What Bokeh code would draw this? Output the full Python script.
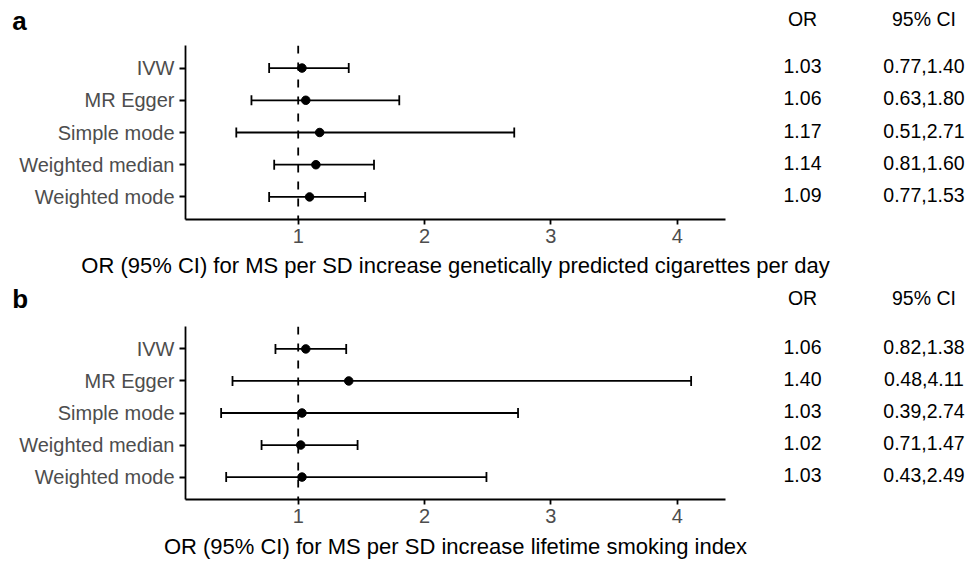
import numpy as np
from bokeh.plotting import figure
from bokeh.models import FactorRange, Range1d, Span, FixedTicker, ColumnDataSource
from bokeh.layouts import column, row
from bokeh.embed import file_html
from bokeh.resources import INLINE
from bokeh.core.properties import value

# ---------------- data ----------------
methods = ["IVW", "MR Egger", "Simple mode", "Weighted median", "Weighted mode"]
table_headers = ["OR", "95% CI"]
x_tick_values = [1, 2, 3, 4]
null_value = 1

a_or = [1.03, 1.06, 1.17, 1.14, 1.09]
a_lo = [0.77, 0.63, 0.51, 0.81, 0.77]
a_hi = [1.40, 1.80, 2.71, 1.60, 1.53]
a_title = "OR (95% CI) for MS per SD increase genetically predicted cigarettes per day"

b_or = [1.06, 1.40, 1.03, 1.02, 1.03]
b_lo = [0.82, 0.48, 0.39, 0.71, 0.43]
b_hi = [1.38, 4.11, 2.74, 1.47, 2.49]
b_title = "OR (95% CI) for MS per SD increase lifetime smoking index"

panel_letters = ["a", "b"]

# ---------------- style / layout ----------------
FONT = "Liberation Sans"
TOTAL_W = 966
MAIN_W = 745
TABLE_W = TOTAL_W - MAIN_W
LEFT_B = 185
RIGHT_B = 20
X_RANGE = (0.108, 4.382)
OR_COL_X = 57
CI_COL_X = 178.5
LETTER_X = -733.3
TITLE_X = (LEFT_B + (MAIN_W - RIGHT_B)) / 2 - MAIN_W
LW = 1.8
GREY = "#4D4D4D"


def fmt(v):
    return f"{v:.2f}"


def strip(h):
    f = figure(width=TOTAL_W, height=h, title=None,
               x_range=Range1d(-MAIN_W, TABLE_W), y_range=Range1d(0, h),
               x_axis_location=None, y_axis_location=None,
               toolbar_location=None, output_backend="svg",
               min_border=0, outline_line_color=None)
    f.xgrid.visible = False
    f.ygrid.visible = False
    return f


def make_panel(letter, title, orv, lo, hi, head_h, letter_y, header_y,
               main_h, frame_h, title_h, title_y):
    head = strip(head_h)
    head.text(x=[LETTER_X], y=[letter_y], text=[letter], text_font=value(FONT),
              text_font_size="26px", text_font_style="bold",
              text_align="left", text_baseline="middle", text_color="black")
    head.text(x=[OR_COL_X, CI_COL_X], y=[header_y, header_y], text=table_headers,
              text_font=value(FONT), text_font_size="19.5px",
              text_align="center", text_baseline="middle", text_color="black")

    bottom_b = main_h - frame_h
    yr = FactorRange(factors=methods[::-1], range_padding=0.2,
                     range_padding_units="absolute")
    p = figure(width=MAIN_W, height=main_h, title=None,
               x_range=Range1d(*X_RANGE), y_range=yr,
               toolbar_location=None, output_backend="svg",
               min_border_left=LEFT_B, min_border_right=RIGHT_B, min_border_top=0,
               min_border_bottom=bottom_b, outline_line_color=None)
    p.xgrid.visible = False
    p.ygrid.visible = False
    p.xaxis.ticker = FixedTicker(ticks=x_tick_values)
    for ax in (p.xaxis[0], p.yaxis[0]):
        ax.axis_line_color = "black"
        ax.axis_line_width = LW
        ax.major_tick_line_color = "black"
        ax.major_tick_line_width = LW
        ax.major_tick_in = 0
        ax.minor_tick_line_color = None
        ax.major_label_text_font = FONT
        ax.major_label_text_font_size = "20px"
        ax.major_label_text_color = GREY
    p.xaxis.major_tick_out = 5
    p.yaxis.major_tick_out = 6
    p.xaxis.major_label_standoff = 4
    p.yaxis.major_label_standoff = 5

    vline = Span(location=null_value, dimension="height", line_color="black",
                 line_dash="8 9", line_width=LW, level="underlay")
    p.add_layout(vline)

    src = ColumnDataSource(dict(method=methods, est=orv, lo=lo, hi=hi))
    p.segment(x0="lo", y0="method", x1="hi", y1="method", source=src,
              line_color="black", line_width=LW)
    p.scatter(x="lo", y="method", marker="dash", angle=np.pi / 2, size=10,
              line_color="black", line_width=LW, source=src)
    p.scatter(x="hi", y="method", marker="dash", angle=np.pi / 2, size=10,
              line_color="black", line_width=LW, source=src)
    p.scatter(x="est", y="method", size=8.5, fill_color="black",
              line_color="black", source=src)

    t = figure(width=TABLE_W, height=main_h, title=None,
               x_range=Range1d(0, TABLE_W), y_range=yr,
               x_axis_location=None, y_axis_location=None,
               toolbar_location=None, output_backend="svg",
               min_border=0, min_border_bottom=bottom_b,
               outline_line_color=None)
    t.xgrid.visible = False
    t.ygrid.visible = False
    tsrc = ColumnDataSource(dict(
        method=methods,
        or_txt=[fmt(v) for v in orv],
        ci_txt=[f"{fmt(l)},{fmt(h)}" for l, h in zip(lo, hi)],
        xo=[OR_COL_X] * len(methods),
        xc=[CI_COL_X] * len(methods),
    ))
    t.text(x="xo", y="method", text="or_txt", source=tsrc, text_font=value(FONT),
           text_font_size="19.5px", text_align="center", text_baseline="middle",
           text_color="black", y_offset=-2)
    t.text(x="xc", y="method", text="ci_txt", source=tsrc, text_font=value(FONT),
           text_font_size="19.5px", text_align="center", text_baseline="middle",
           text_color="black", y_offset=-2)

    tl = strip(title_h)
    tl.text(x=[TITLE_X], y=[title_y], text=[title], text_font=value(FONT),
            text_font_size="22px", text_align="center", text_baseline="middle",
            text_color="black")

    return column(head, row(p, t, spacing=0), tl, spacing=0)


panel_a = make_panel(panel_letters[0], a_title, a_or, a_lo, a_hi,
                     45, 24.1, 26.8, 207, 174, 29, 16.0)
panel_b = make_panel(panel_letters[1], b_title, b_or, b_lo, b_hi,
                     45, 27.4, 28.5, 206, 173, 29, 15.2)

layout = column(panel_a, panel_b, spacing=0)
open("out.html", "w").write(file_html(layout, INLINE))
